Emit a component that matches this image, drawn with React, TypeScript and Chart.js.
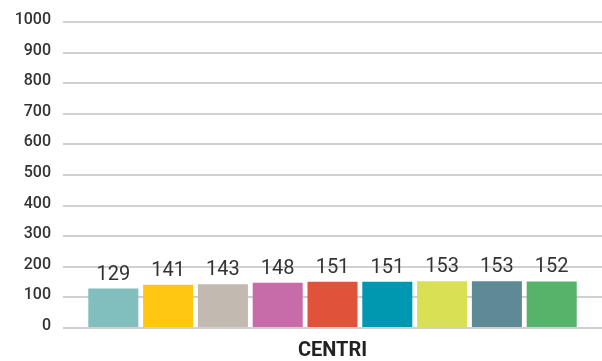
import React, { useEffect, useRef } from "react";
import { Chart, registerables } from "chart.js";

Chart.register(...registerables);

const categories = ["CENTRI"];
const seriesValues = [129, 141, 143, 148, 151, 151, 153, 153, 152];
const seriesColors = [
  "#80BFBE",
  "#FFC711",
  "#C2BAB0",
  "#C86CA9",
  "#E0533A",
  "#0098B0",
  "#D9E054",
  "#5E8A96",
  "#56B36A",
];
const yTicks = [0, 100, 200, 300, 400, 500, 600, 700, 800, 900, 1000];

const valueLabels = {
  id: "valueLabels",
  afterDatasetsDraw(chart: any) {
    const ctx = chart.ctx;
    ctx.save();
    ctx.font = "400 20px Roboto";
    ctx.fillStyle = "#333333";
    ctx.textAlign = "center";
    ctx.textBaseline = "bottom";
    chart.data.datasets.forEach((ds: any, i: number) => {
      const meta = chart.getDatasetMeta(i);
      meta.data.forEach((bar: any, j: number) => {
        ctx.fillText(String(ds.data[j]), bar.x, bar.y - 4);
      });
    });
    ctx.restore();
  },
};

export default function App() {
  const canvasRef = useRef<HTMLCanvasElement>(null);

  useEffect(() => {
    if (!canvasRef.current) return;
    const chart = new Chart(canvasRef.current, {
      type: "bar",
      data: {
        labels: categories,
        datasets: seriesValues.map((v, i) => ({
          label: "s" + (i + 1),
          data: [v],
          backgroundColor: seriesColors[i],
          borderWidth: 0,
          categoryPercentage: 0.915,
          barPercentage: 0.913,
        })),
      },
      options: {
        responsive: false,
        animation: false,
        layout: { padding: { left: 0, right: 0, top: 22, bottom: 0 } },
        plugins: {
          legend: { display: false },
          tooltip: { enabled: false },
        },
        scales: {
          x: {
            afterFit: (axis: any) => {
              axis.height = 33;
            },
            grid: { display: false, drawTicks: false },
            border: { display: false },
            ticks: {
              color: "#222222",
              font: { family: "Roboto", size: 20, weight: "bold" },
              padding: 11,
            },
          },
          y: {
            min: 0,
            max: 1000,
            afterFit: (axis: any) => {
              axis.width = 63;
            },
            afterBuildTicks: (axis: any) => {
              axis.ticks = yTicks.map((v) => ({ value: v }));
            },
            grid: { color: "#D0D0D0", lineWidth: 2, drawTicks: false },
            border: { display: false },
            ticks: {
              color: "#333333",
              font: { family: "Roboto", size: 16, weight: 500 },
              padding: 12,
              labelOffset: -2,
              callback: (v: any) => String(v),
            },
          },
        },
      },
      plugins: [valueLabels],
    });
    return () => chart.destroy();
  }, []);

  return (
    <div style={{ position: "absolute", left: 0, top: 0, width: 602, height: 361 }}>
      <canvas ref={canvasRef} width={602} height={361} />
    </div>
  );
}
